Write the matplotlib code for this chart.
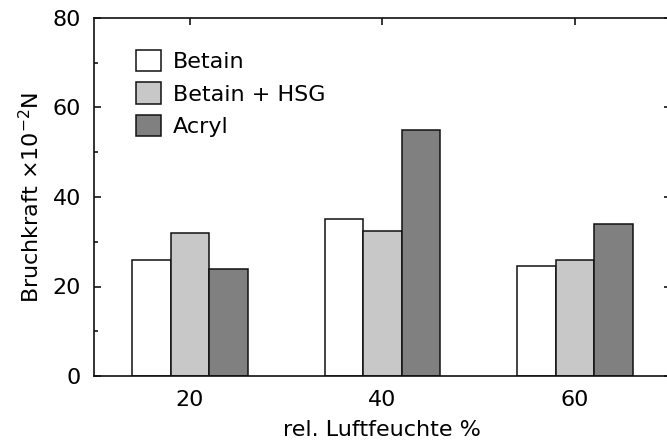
import matplotlib
matplotlib.use("Agg")
import matplotlib.pyplot as plt
import numpy as np
from matplotlib.ticker import MultipleLocator

humidity = [20, 40, 60]
betain = [26.0, 35.0, 24.5]
betain_hsg = [32.0, 32.5, 26.0]
acryl = [24.0, 55.0, 34.0]
series_labels = ["Betain", "Betain + HSG", "Acryl"]
y_ticks = [0, 20, 40, 60, 80]

plt.rcParams["font.family"] = "DejaVu Sans"
plt.rcParams["mathtext.default"] = "regular"

fig = plt.figure(figsize=(6.67, 4.41), dpi=100)
ax = fig.add_axes([93.5 / 667, 65 / 441, 577.5 / 667, 358 / 441])

x = np.array(humidity, dtype=float)
width = 4.0
colors = ["white", "#c8c8c8", "#808080"]
for i, (vals, label, color) in enumerate(zip([betain, betain_hsg, acryl], series_labels, colors)):
    ax.bar(x + (i - 1) * width, vals, width, color=color, edgecolor="#111111",
           linewidth=1.1, label=label, zorder=2)

ax.set_xlim(10, 70)
ax.set_ylim(0, 80)
ax.set_xticks(humidity)
ax.set_yticks(y_ticks)
ax.yaxis.set_minor_locator(MultipleLocator(10))

for side in ax.spines.values():
    side.set_linewidth(1.2)
    side.set_color("#111111")

ax.tick_params(axis="x", which="major", direction="in", top=True, bottom=True,
               length=5, width=1.1, pad=10, labelsize=16)
ax.tick_params(axis="y", which="major", direction="in", left=True, right=True,
               length=5, width=1.1, pad=9, labelsize=16)
ax.tick_params(axis="y", which="minor", direction="in", left=True, right=False,
               length=3, width=1.1)

ax.set_xlabel("rel. Luftfeuchte %", fontsize=16, labelpad=7)
ax.set_ylabel(r"Bruchkraft $\times$10$^{-2}$N", fontsize=16, labelpad=7)

ax.legend(loc="upper left", bbox_to_anchor=(0.058, 0.935), borderaxespad=0,
          frameon=False, fontsize=16, handlelength=1.15, handleheight=1.1,
          handletextpad=0.5, labelspacing=0.45)

fig.savefig("out.png", dpi=100)
